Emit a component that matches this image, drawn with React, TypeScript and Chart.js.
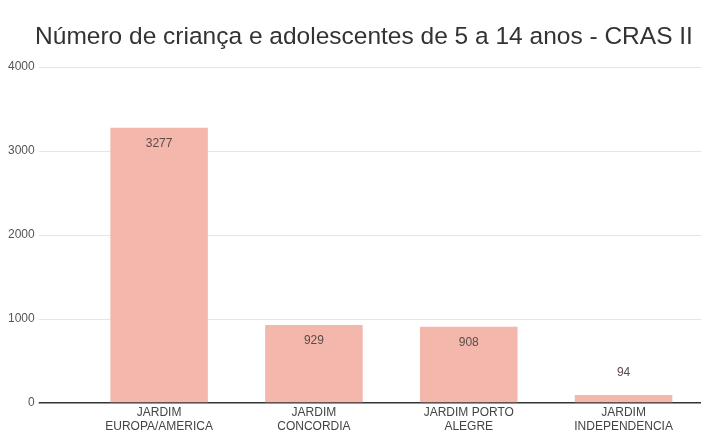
import React, { useEffect, useRef } from "react";
import { Chart, registerables } from "chart.js";

Chart.register(...registerables);

const titleText = "Número de criança e adolescentes de 5 a 14 anos - CRAS II";
const categories: string[][] = [
  ["JARDIM", "EUROPA/AMERICA"],
  ["JARDIM", "CONCORDIA"],
  ["JARDIM PORTO", "ALEGRE"],
  ["JARDIM", "INDEPENDENCIA"],
];
const values: number[] = [3277, 929, 908, 94];
const yTicks: number[] = [0, 1000, 2000, 3000, 4000];

const FONT = "'Liberation Sans', Arial, sans-serif";

const valueLabelPlugin = {
  id: "valueLabels",
  afterDatasetsDraw(chart: any) {
    const ctx = chart.ctx;
    const meta = chart.getDatasetMeta(0);
    ctx.save();
    ctx.font = `12px ${FONT}`;
    ctx.fillStyle = "#5a4a4a";
    ctx.textAlign = "center";
    ctx.textBaseline = "middle";
    meta.data.forEach((bar: any, i: number) => {
      const v = values[i];
      const h = bar.base - bar.y;
      const y = h > 30 ? bar.y + 16 : bar.y - 22;
      ctx.fillText(String(v), bar.x, y);
    });
    ctx.restore();
  },
};

const categoryLabelPlugin = {
  id: "categoryLabels",
  afterDraw(chart: any) {
    const ctx = chart.ctx;
    const xScale = chart.scales.x;
    const base = chart.chartArea.bottom;
    ctx.save();
    ctx.font = `12px ${FONT}`;
    ctx.fillStyle = "#444";
    ctx.textAlign = "center";
    ctx.textBaseline = "middle";
    categories.forEach((lines, i) => {
      const x = xScale.getPixelForValue(i);
      lines.forEach((line, j) => {
        ctx.fillText(line, x, base + 10 + j * 14);
      });
    });
    ctx.restore();
  },
};

const titlePlugin = {
  id: "customTitle",
  afterDraw(chart: any) {
    const ctx = chart.ctx;
    ctx.save();
    ctx.font = `24.5px ${FONT}`;
    ctx.fillStyle = "#333";
    ctx.textAlign = "center";
    ctx.textBaseline = "middle";
    ctx.fillText(titleText, 364, 37);
    ctx.restore();
  },
};

export default function App() {
  const ref = useRef<HTMLCanvasElement | null>(null);
  useEffect(() => {
    if (!ref.current) return;
    const chart = new Chart(ref.current, {
      type: "bar",
      data: {
        labels: categories,
        datasets: [
          {
            data: values,
            backgroundColor: "#f3b8ab",
            borderWidth: 0,
            barPercentage: 0.63,
            categoryPercentage: 1,
          },
        ],
      },
      options: {
        animation: false,
        responsive: false,
        maintainAspectRatio: false,
        layout: { padding: { top: 67, right: 16, bottom: 28, left: 4 } },
        plugins: {
          legend: { display: false },
          tooltip: { enabled: false },
          title: { display: false },
        },
        scales: {
          x: {
            grid: { display: false },
            border: { display: false },
            ticks: { display: false },
          },
          y: {
            min: 0,
            max: 4000,
            afterBuildTicks: (axis: any) => {
              axis.ticks = yTicks.map((v) => ({ value: v }));
            },
            grid: {
              color: (c: any) => (c.tick && c.tick.value === 0 ? "#333" : "#e6e6e6"),
              lineWidth: (c: any) => (c.tick && c.tick.value === 0 ? 1.5 : 1),
              tickLength: 43,
              drawTicks: true,
            },
            border: { display: false },
            ticks: {
              color: "#555",
              font: { size: 12, family: FONT },
              padding: 4,
              callback: (v: any) => String(v),
            },
          },
        },
      },
      plugins: [valueLabelPlugin, categoryLabelPlugin, titlePlugin],
    });
    return () => chart.destroy();
  }, []);
  return (
    <div style={{ position: "fixed", left: 0, top: 0, width: 717, height: 439, background: "#fff" }}>
      <canvas ref={ref} width={717} height={439} />
    </div>
  );
}
